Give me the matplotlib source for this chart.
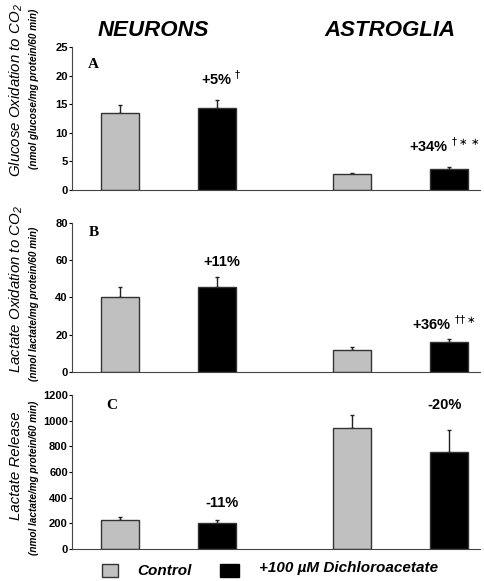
import numpy as np
import matplotlib.pyplot as plt

plt.rcParams['font.family'] = ['Liberation Sans', 'DejaVu Sans']

# Bar values: neurons (control, DCA), astroglia (control, DCA)
groups = ['NEURONS', 'ASTROGLIA']
glucose_ox = [13.5, 14.3, 2.8, 3.75]
glucose_err = [1.4, 1.4, 0.25, 0.3]
lactate_ox = [40.5, 45.5, 12.0, 16.3]
lactate_ox_err = [5.0, 5.5, 1.2, 1.1]
lactate_rel = [225, 200, 940, 755]
lactate_rel_err = [28, 28, 105, 170]

glucose_ticks = [0, 5, 10, 15, 20, 25]
lactate_ox_ticks = [0, 20, 40, 60, 80]
lactate_rel_ticks = [0, 200, 400, 600, 800, 1000, 1200]

glucose_notes = ['+5% $^{\u2020}$', '+34% $^{\u2020\\ast\\ast}$']
lactate_ox_notes = ['+11%', '+36% $^{\u2020\u2020\\ast}$']
lactate_rel_notes = ['-11%', '-20%']

panels = [
    dict(letter='A', vals=glucose_ox, err=glucose_err, ticks=glucose_ticks,
         notes=glucose_notes, rect=[0.1485, 0.673, 0.841, 0.246],
         note_y=[19.5, 7.8], letter_xy=(0.04, 0.88),
         lab1='Glucose Oxidation to CO$_\\mathregular{2}$',
         lab2='(nmol glucose/mg protein/60 min)', lab_y=(0.845, 0.847)),
    dict(letter='B', vals=lactate_ox, err=lactate_ox_err, ticks=lactate_ox_ticks,
         notes=lactate_ox_notes, rect=[0.1485, 0.360, 0.841, 0.256],
         note_y=[59, 26], letter_xy=(0.04, 0.94),
         lab1='Lactate Oxidation to CO$_\\mathregular{2}$',
         lab2='(nmol lactate/mg protein/60 min)', lab_y=(0.503, 0.477)),
    dict(letter='C', vals=lactate_rel, err=lactate_rel_err, ticks=lactate_rel_ticks,
         notes=lactate_rel_notes, rect=[0.1485, 0.055, 0.841, 0.265],
         note_y=[355, 1120], letter_xy=(0.085, 0.93),
         lab1='Lactate Release',
         lab2='(nmol lactate/mg protein/60 min)', lab_y=(0.198, 0.177)),
]

pos = np.array([0, 1, 2.4, 3.4])
colors = ['#c0c0c0', '#000000', '#c0c0c0', '#000000']

fig = plt.figure(figsize=(4.85, 5.81), dpi=100)

for p in panels:
    ax = fig.add_axes(p['rect'])
    ax.bar(pos, p['vals'], width=0.39, color=colors, edgecolor='#333333',
           linewidth=1.0, zorder=2)
    ax.errorbar(pos, p['vals'], yerr=[np.zeros(4), p['err']], fmt='none',
                ecolor='#222222', elinewidth=1.0, capsize=1.2, zorder=1)
    ax.set_xlim(-0.495, 3.72)
    ax.set_ylim(0, p['ticks'][-1])
    ax.set_yticks(p['ticks'])
    ax.set_xticks([])
    for s in ['top', 'right']:
        ax.spines[s].set_visible(False)
    ax.spines['left'].set_color('#444444')
    ax.spines['bottom'].set_color('#444444')
    ax.tick_params(axis='y', length=2, width=0.8, pad=1, labelsize=8)
    for t in ax.get_yticklabels():
        t.set_fontweight('bold')
    ax.text(p['letter_xy'][0], p['letter_xy'][1], p['letter'], transform=ax.transAxes,
            family='Liberation Serif', fontweight='bold', fontsize=11, va='center')
    ax.text(pos[1] + 0.05, p['note_y'][0], p['notes'][0], ha='center', va='center',
            fontsize=10.5, fontweight='bold')
    ax.text(pos[3] - 0.05, p['note_y'][1], p['notes'][1], ha='center', va='center',
            fontsize=10.5, fontweight='bold')
    fig.text(0.033, p['lab_y'][0], p['lab1'], rotation=90, ha='center', va='center',
             fontsize=10.8, style='italic')
    fig.text(0.071, p['lab_y'][1], p['lab2'], rotation=90, ha='center', va='center',
             fontsize=7.2, fontweight='bold', style='italic')

fig.text(0.316, 0.948, groups[0], ha='center', va='center', fontsize=16,
         fontweight='bold', style='italic')
fig.text(0.804, 0.948, groups[1], ha='center', va='center', fontsize=16,
         fontweight='bold', style='italic')

# legend
fig.patches.append(plt.Rectangle((0.210, 0.007), 0.034, 0.022, transform=fig.transFigure,
                                 facecolor='#c0c0c0', edgecolor='#333333', lw=1))
fig.patches.append(plt.Rectangle((0.454, 0.007), 0.038, 0.022, transform=fig.transFigure,
                                 facecolor='#000000', edgecolor='#000000', lw=1))
fig.text(0.282, 0.018, 'Control', ha='left', va='center', fontsize=11,
         fontweight='bold', style='italic')
fig.text(0.535, 0.022, '+100 \u00b5M Dichloroacetate', ha='left', va='center',
         fontsize=11, fontweight='bold', style='italic')

fig.savefig('out.png', dpi=100)
